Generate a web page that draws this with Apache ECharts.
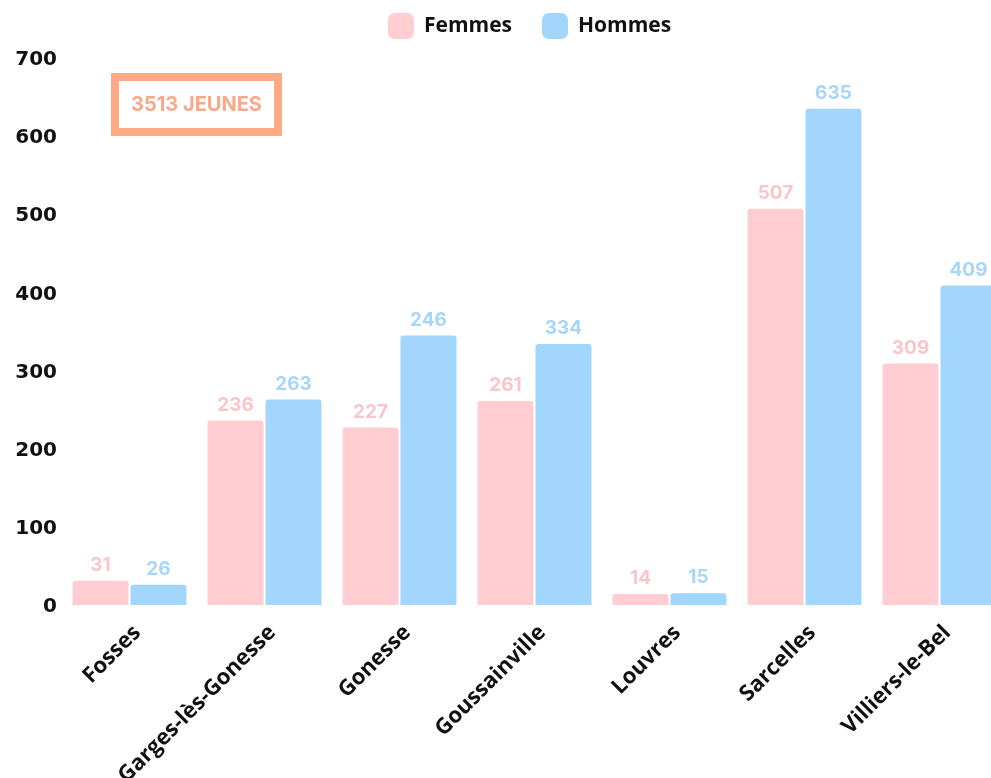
<!DOCTYPE html>
<html><head><meta charset="utf-8">
<script src="https://cdn.jsdelivr.net/npm/echarts@6/dist/echarts.min.js"></script>
<style>html,body{margin:0;padding:0;background:#fff}#c{width:991px;height:778px}</style>
</head><body><div id="c"></div>
<script>
const categories = ['Fosses','Garges-lès-Gonesse','Gonesse','Goussainville','Louvres','Sarcelles','Villiers-le-Bel'];
const femmesValues = [31, 236, 227, 261, 14, 507, 309];
const hommesValues = [26, 263, 345, 334, 15, 635, 409];
const femmesLabels = ['31','236','227','261','14','507','309'];
const hommesLabels = ['26','263','246','334','15','635','409'];
const yTicks = [0,100,200,300,400,500,600,700];
const annotation = '3513 JEUNES';

const pink = '#FFCDD2', blue = '#A2D6FD';
const chart = echarts.init(document.getElementById('c'));
const lbl = (color, labels) => ({
  show: true, position: 'top', distance: 6,
  color: color, fontFamily: 'Inter', fontWeight: 700, fontSize: 19,
  textShadowColor: 'rgba(120,80,80,0.25)', textShadowOffsetX: -0.5, textShadowOffsetY: 0.8, textShadowBlur: 0,
  formatter: p => labels[p.dataIndex]
});
chart.setOption({
  animation: false,
  legend: {
    top: 8, left: 383, itemWidth: 26, itemHeight: 26, itemGap: 30,
    icon: 'roundRect',
    textStyle: {fontFamily: 'Open Sans', fontWeight: 700, fontSize: 21, color: '#111', padding: [0,0,0,5]},
    data: ['Femmes','Hommes']
  },
  grid: {left: 62, width: 945, top: 58, bottom: 173, outerBoundsMode: 'none', containLabel: false},
  xAxis: {
    type: 'category', data: categories,
    axisLine: {show: false}, axisTick: {show: false},
    axisLabel: {rotate: 45, margin: 32, interval: 0, padding: [0,-11,0,0], fontFamily: 'Open Sans', fontWeight: 700, fontSize: 22, color: '#111'}
  },
  yAxis: {
    type: 'value', min: yTicks[0], max: yTicks[yTicks.length-1], interval: 100,
    splitLine: {show: false}, axisLine: {show: false}, axisTick: {show: false},
    axisLabel: {margin: 5, formatter: '{a|{value}}',
      rich: {a: {padding: [4,0,0,0], fontFamily: 'DejaVu Sans', fontWeight: 700, fontSize: 20, color: '#111'}},
      fontFamily: 'DejaVu Sans', fontWeight: 700, fontSize: 20, color: '#111'}
  },
  series: [
    {name: 'Femmes', type: 'bar', data: femmesValues, barWidth: 56, barGap: '3.5%',
     itemStyle: {color: pink, borderRadius: [3,3,0,0]}, label: lbl('#F9C6CB', femmesLabels)},
    {name: 'Hommes', type: 'bar', data: hommesValues, barWidth: 56,
     itemStyle: {color: blue, borderRadius: [3,3,0,0]}, label: lbl('#A6D6F8', hommesLabels)}
  ],
  graphic: [
    {type: 'rect', shape: {x: 115, y: 77, width: 163, height: 55},
     style: {fill: '#fff', stroke: '#FFAA85', lineWidth: 8}},
    {type: 'text', x: 196.5, y: 105,
     style: {text: annotation, fill: '#F9A98A', font: '700 20px Inter', textAlign: 'center', textVerticalAlign: 'middle'}}
  ]
});
</script></body></html>
